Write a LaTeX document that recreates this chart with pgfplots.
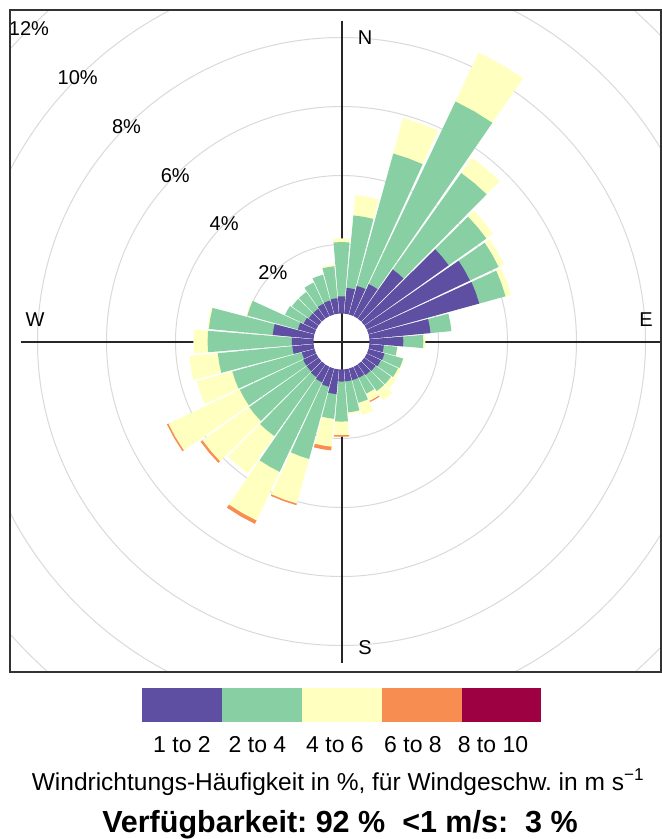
\documentclass[border=0pt]{standalone}
\usepackage{pgfplots}
\pgfplotsset{compat=1.18}
\usepackage{pgfplotstable}
\usepackage{fontspec}
\setmainfont{Liberation Sans}
\frenchspacing
\definecolor{cP}{HTML}{5E4FA2}
\definecolor{cG}{HTML}{88D0A4}
\definecolor{cY}{HTML}{FFFFBF}
\definecolor{cO}{HTML}{F88D52}
\definecolor{cR}{HTML}{9E0142}
\definecolor{gridc}{HTML}{D9D9D9}
\definecolor{linec}{HTML}{333333}

% wind direction (deg) and frequency (%) per speed class
\pgfplotstableread{
dir s12 s24 s46 s68
0   0.50 1.57 0.11 0
10  0.75 2.11 0.59 0
20  0.86 3.98 1.07 0
30  1.03 5.86 1.57 0
40  1.75 3.43 0.54 0
50  3.00 1.34 0.24 0
60  3.31 0.92 0.17 0
70  3.33 0.79 0.16 0
80  1.78 0.61 0    0
90  0.98 0.58 0.06 0
100 0.42 0.39 0.02 0
110 0.48 0.56 0.02 0
120 0.45 0.55 0.08 0
130 0.40 0.55 0.17 0
140 0.38 0.57 0.33 0
150 0.35 0.51 0.23 0.04
160 0.35 0.68 0.37 0
170 0.35 0.90 0.05 0
180 0.35 1.16 0.39 0.05
190 0.72 0.72 0.81 0.11
200 0.55 2.17 1.34 0.05
210 0.50 2.87 1.56 0.11
220 0.45 2.10 1.32 0
230 0.42 2.05 1.66 0.07
240 0.42 2.03 2.29 0.05
250 0.38 2.09 1.07 0
260 0.62 2.17 0.83 0
270 0.63 2.44 0.41 0
280 1.19 1.86 0.04 0
290 0.50 1.52 0.03 0
300 0.40 0.60 0    0
310 0.35 0.60 0    0
320 0.35 0.60 0    0
330 0.40 0.68 0    0
340 0.42 0.78 0    0
350 0.45 0.93 0.05 0
}\windtbl

\newcommand\hole{0.8116}
\newcommand\sector[4]{%
  \pgfmathsetmacro\aA{90-#4-4.6}%
  \pgfmathsetmacro\aM{90-#4}%
  \pgfmathsetmacro\aB{90-#4+4.6}%
  \edef\tmp{\noexpand\addplot[fill=#3, draw=none, data cs=polar, forget plot] coordinates {(\aA,#1) (\aA,#2) (\aM,#2) (\aB,#2) (\aB,#1) (\aM,#1)};}%
  \tmp}

\begin{document}
\begin{tikzpicture}[x=1pt,y=1pt]
\useasboundingbox (0,0) rectangle (662,-839);
% grid circles
\begin{scope}
\clip (10,-10) rectangle (661,-672);
\foreach \r in {97,166,235,304,373,442}
  \draw[gridc, line width=1pt] (341.5,-341.5) circle[radius=\r];
\end{scope}
% cross lines
\draw[black!85, line width=2pt] (20.5,-341.5) -- (661,-341.5);
\draw[black!85, line width=2pt] (341.5,-20.5) -- (341.5,-662.5);
% labels
\begin{scope}[every node/.style={font=\fontsize{20}{24}\selectfont}]
\node at (365,-38) {N};
\node at (646,-320) {E};
\node at (365,-648) {S};
\node at (35,-320) {W};
\node at (272.9,-272.9) {2\%};
\node at (224.1,-224.1) {4\%};
\node at (175.3,-175.3) {6\%};
\node at (126.5,-126.5) {8\%};
\node at (77.7,-77.7) {10\%};
\node at (29,-29) {12\%};
\end{scope}

\begin{axis}[
  at={(10pt,-672pt)}, anchor=south west,
  scale only axis, width=651pt, height=662pt,
  xmin=-9.6087, xmax=9.2609, ymin=-9.5797, ymax=9.6087,
  axis line style={linec, line width=1.4pt},
  ticks=none, clip=true,
]
\pgfplotsinvokeforeach{0,...,35}{%
  \pgfplotstablegetelem{#1}{dir}\of\windtbl \edef\wdir{\pgfplotsretval}%
  \pgfplotstablegetelem{#1}{s12}\of\windtbl \edef\wa{\pgfplotsretval}%
  \pgfplotstablegetelem{#1}{s24}\of\windtbl \edef\wb{\pgfplotsretval}%
  \pgfplotstablegetelem{#1}{s46}\of\windtbl \edef\wc{\pgfplotsretval}%
  \pgfplotstablegetelem{#1}{s68}\of\windtbl \edef\wdd{\pgfplotsretval}%
  \pgfmathsetmacro\rA{\hole+\wa}%
  \pgfmathsetmacro\rB{\rA+\wb}%
  \pgfmathsetmacro\rC{\rB+\wc}%
  \pgfmathsetmacro\rD{\rC+\wdd}%
  \ifdim\wdd pt>0pt \pgfmathsetmacro\ri{\rC-0.03}\sector{\ri}{\rD}{cO}{\wdir}\fi
  \ifdim\wc pt>0pt \pgfmathsetmacro\ri{\rB-0.03}\sector{\ri}{\rC}{cY}{\wdir}\fi
  \ifdim\wb pt>0pt \pgfmathsetmacro\ri{\rA-0.03}\sector{\ri}{\rB}{cG}{\wdir}\fi
  \ifdim\wa pt>0pt \sector{\hole}{\rA}{cP}{\wdir}\fi
}
\end{axis}

% legend
\fill[cP] (142,-688) rectangle (222,-722);
\fill[cG] (222,-688) rectangle (302,-722);
\fill[cY] (302,-688) rectangle (382,-722);
\fill[cO] (382,-688) rectangle (461.5,-722);
\fill[cR] (461.5,-688) rectangle (541,-722);
\begin{scope}[every node/.style={anchor=base, font=\fontsize{23}{26}\selectfont}]
\node at (182,-752) {1 to 2};
\node at (257.5,-752) {2 to 4};
\node at (335,-752) {4 to 6};
\node at (413,-752) {6 to 8};
\node at (493,-752) {8 to 10};
\node[font=\fontsize{24.5}{28}\selectfont] at (338,-790) {Windrichtungs-Häufigkeit in \%, für Windgeschw. in m s\textsuperscript{−1}};
\node[font=\bfseries\fontsize{30.5}{34}\selectfont] at (340,-832) {Verfügbarkeit: 92 \%\ \ <1 m/s:\ \ 3 \%};
\end{scope}
\end{tikzpicture}
\end{document}
